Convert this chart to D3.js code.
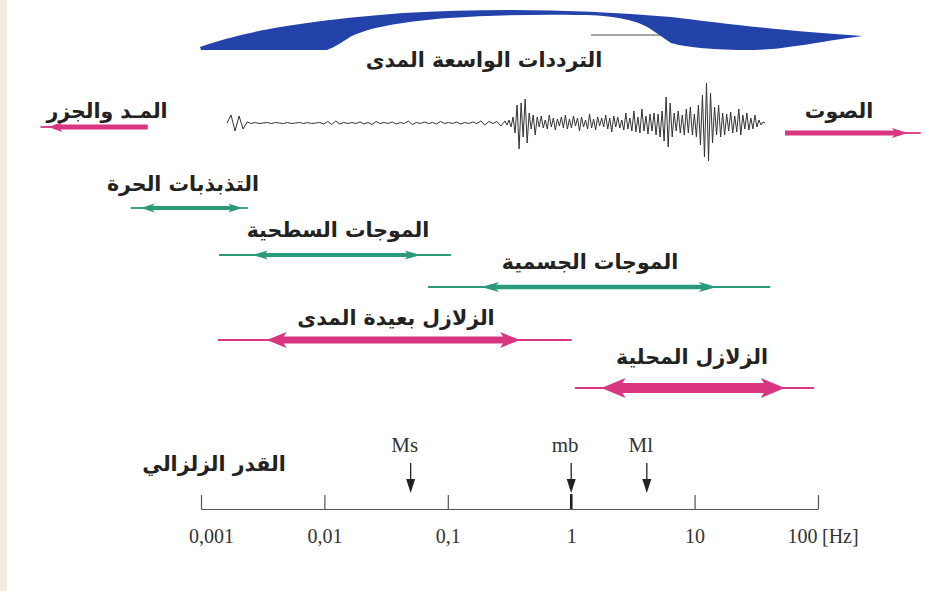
<!DOCTYPE html>
<html>
<head>
<meta charset="utf-8">
<script src="https://cdn.jsdelivr.net/npm/d3@7"></script>
<style>
  body { margin: 0; background: #fff; }
  .lbl { font-family: "DejaVu Sans", sans-serif; font-weight: bold; fill: #222; font-size: 20.5px; }
  .axis text { font-family: "Liberation Serif", serif; font-size: 20px; fill: #333; }
  .axis path, .axis line { stroke: #555; stroke-width: 1.2; }
  .mag { font-family: "Liberation Serif", serif; font-size: 21px; fill: #333; }
</style>
</head>
<body>
<script>
// frequency axis
var freqTicks = [0.001, 0.01, 0.1, 1, 10, 100];
var tickLabels = ["0,001", "0,01", "0,1", "1", "10", "100"];

// frequency bands (Hz): line ends and arrow head positions
var bandNames = ["المـد والجزر", "الصوت", "التذبذبات الحرة", "الموجات السطحية",
                 "الموجات الجسمية", "الزلازل بعيدة المدى", "الزلازل المحلية"];
var bandLow      = [0.00005, 54, 0.00027, 0.0014, 0.069, 0.00137, 1.07];
var bandHeadLow  = [0.000066, null, 0.00037, 0.003, 0.22, 0.0041, 2.2];
var bandHeadHigh = [null, 460, 0.0019, 0.052, 12.8, 0.32, 43];
var bandHigh     = [0.00037, 680, 0.0024, 0.106, 41, 1.01, 93];

// broadband range (big blue arrow)
var broadband = [0.001, 230];
var broadbandName = "الترددات الواسعة المدى";

// magnitude scales
var magNames = ["Ms", "mb", "Ml"];
var magFreq = [0.05, 1, 4.1];
var magTitle = "القدر الزلزالي";

// seismogram trace (px amplitude)
var traceQuiet = [0, 8, -8, 7, -6, 1, -0.5, 0.5, -0.5, 0, 0.5, -0.5, 0.5, 0, -0.5, 0.5, -0.5, 0, 0.5, -0.5,
  0.5, -0.5, 0, 0.5, -1, 1.5, -1.5, 2, -1, 0.5, -0.5, 0.5, -0.5, 1, -1, 0.5, -1.5, 1.5, -0.5, 0.5,
  -0.5, 1, -1, 0.5, -0.5, 2, -1.5, 0.5, -0.5, 1, -0.5, 0.5, -1, 1.5, -0.5, 0.5, -0.5, 1, -1, 0.5,
  -0.5, 1, -0.5, 2, -2, 1.5, -0.5, 1.5, -3, 2];
var traceP = [-2, 3, -4, 6, -10, 18, -26, 20, -14, 24, -20, 10, -6, 8, -12, 6, -4, 7, -5, 3,
  -6, 8, -4, 5, -7, 4, -3, 6, -5, 8, -6, 4, -5, 7, -3, 5, -8, 6, -4, 3,
  -6, 9, -5, 4, -7, 6, -3, 5, -4, 8, -6, 5, -9, 7, -4, 6, -5, 3, -7, 10,
  -6, 5, -8, 12, -9, 6, -10, 14, -8, 7, -11, 9];
var traceS = [-8, 10, -12, 9, -14, 12, -18, 26, -24, 20, -14, 10, -8, 12, -10, 8, -12, 14, -10, 16,
  -12, 9, -14, 18, -22, 28, -34, 40, -38, 30, -20, 16, -12, 18, -14, 10, -12, 9, -8, 11,
  -10, 7, -9, 14, -12, 8, -6, 10, -7, 5, -6, 8, -4, 3, -2, 1, 0];
var trace = traceQuiet.concat(traceP, traceS);

var width = 925, height = 591;
var pink = "#d93580", green = "#2a9a7b", blue = "#2443aa";

// layout
var rowY = [127, 133, 208, 255, 287, 340, 388];
var labelPos = [[107, 118], [839, 118], [183, 191], [338, 237], [590, 269], [396, 325], [692, 364]];
var bandStyle = [
  {c: pink, w: 5, len: 14, h: 5},
  {c: pink, w: 5, len: 16, h: 5},
  {c: green, w: 4, len: 14, h: 4.5},
  {c: green, w: 4, len: 16, h: 4.5},
  {c: green, w: 4.5, len: 18, h: 5},
  {c: pink, w: 7, len: 20, h: 8},
  {c: pink, w: 10, len: 24, h: 10}
];

var x = d3.scaleLog().domain([0.001, 100]).range([201, 818]);

var svg = d3.select("body").append("svg")
    .attr("width", width)
    .attr("height", height);

svg.append("rect").attr("width", 7).attr("height", height).attr("fill", "#f6ebe3");

// big blue arrow
var x0 = x(broadband[0]), x1 = x(broadband[1]);
var p = d3.path();
p.moveTo(x0, 50);
p.lineTo(x0 - 1, 47);
p.bezierCurveTo(x0 + 40, 32, x0 + 100, 21, x0 + 202, 13);
p.bezierCurveTo(x0 + 290, 8, x0 + 380, 9, x0 + 470, 17);
p.bezierCurveTo(x0 + 520, 23, x0 + 580, 31, x1, 36);
p.bezierCurveTo(x1 - 60, 44, x0 + 580, 51, x0 + 537, 50);
p.bezierCurveTo(x0 + 500, 49, x0 + 480, 46, x0 + 470, 43);
p.lineTo(x0 + 448, 28);
p.bezierCurveTo(x0 + 435, 20, x0 + 410, 15, x0 + 381, 15);
p.bezierCurveTo(x0 + 340, 14, x0 + 290, 15, x0 + 247, 18);
p.bezierCurveTo(x0 + 210, 21, x0 + 170, 26, x0 + 149, 37);
p.bezierCurveTo(x0 + 140, 43, x0 + 132, 48, x0 + 126, 50);
p.closePath();
svg.append("line").attr("x1", x0 + 390).attr("x2", x0 + 460).attr("y1", 35).attr("y2", 35)
    .attr("stroke", "#8a8a8a").attr("stroke-width", 1.5);
svg.append("path").attr("d", p.toString()).attr("fill", blue);

svg.append("text").attr("class", "lbl")
    .attr("x", 484).attr("y", 67)
    .attr("text-anchor", "middle")
    .text(broadbandName);

// seismogram
var n = trace.length;
var tx = d3.scaleLinear()
    .domain([0, traceQuiet.length - 1, traceQuiet.length + traceP.length - 1, n - 1])
    .range([227, 505, 650, 765]);
var ty = d3.scaleLinear().domain([-40, 40]).range([163, 83]);
svg.append("path")
    .datum(trace)
    .attr("fill", "none")
    .attr("stroke", "#333")
    .attr("stroke-width", 1)
    .attr("d", d3.line().x(function(d, i) { return tx(i); }).y(function(d) { return ty(d); }));

// band arrows
function head(g, xc, y, dir, s) {
  var tip = xc + dir * s.len / 2, base = xc - dir * s.len / 2;
  g.append("path")
    .attr("d", "M" + tip + "," + y + "L" + base + "," + (y - s.h) + "L" + (base + dir * s.len * 0.25) + "," + y +
               "L" + base + "," + (y + s.h) + "Z")
    .attr("fill", s.c);
}

bandNames.forEach(function(name, i) {
  var s = bandStyle[i], y = rowY[i];
  var g = svg.append("g");
  var a = bandHeadLow[i] != null ? bandHeadLow[i] : bandLow[i];
  var b = bandHeadHigh[i] != null ? bandHeadHigh[i] : bandHigh[i];
  // thin tails
  if (bandHeadLow[i] != null)
    g.append("line").attr("x1", x(bandLow[i])).attr("x2", x(a)).attr("y1", y).attr("y2", y)
      .attr("stroke", s.c).attr("stroke-width", 1.8);
  if (bandHeadHigh[i] != null)
    g.append("line").attr("x1", x(b)).attr("x2", x(bandHigh[i])).attr("y1", y).attr("y2", y)
      .attr("stroke", s.c).attr("stroke-width", 1.8);
  g.append("line").attr("x1", x(a)).attr("x2", x(b)).attr("y1", y).attr("y2", y)
    .attr("stroke", s.c).attr("stroke-width", s.w);
  if (bandHeadLow[i] != null) head(g, x(bandHeadLow[i]), y, -1, s);
  if (bandHeadHigh[i] != null) head(g, x(bandHeadHigh[i]), y, 1, s);

  svg.append("text").attr("class", "lbl")
    .attr("x", labelPos[i][0]).attr("y", labelPos[i][1])
    .attr("text-anchor", "middle")
    .text(name);
});

// frequency axis
var axisY = 509;
var ax = svg.append("g")
    .attr("class", "axis")
    .attr("transform", "translate(0," + axisY + ")")
    .call(d3.axisBottom(x)
      .tickValues(freqTicks)
      .tickFormat(function(d, i) { return tickLabels[i]; })
      .tickSize(-14)
      .tickSizeOuter(0)
      .tickPadding(28));
ax.selectAll(".tick text").attr("dy", "0.32em");
ax.selectAll(".tick").filter(function(d) { return d === 0.001; }).select("text").attr("dx", 10);
ax.selectAll(".tick").filter(function(d) { return d === 100; }).select("text").attr("dx", -16);
ax.append("text").attr("x", x(100) + 4).attr("y", 28).attr("dy", "0.32em")
    .attr("text-anchor", "start").text("[Hz]");

// magnitude markers
magNames.forEach(function(m, i) {
  var mx = x(magFreq[i]);
  svg.append("text").attr("class", "mag")
    .attr("x", mx - 6).attr("y", 452)
    .attr("text-anchor", "middle").text(m);
  svg.append("line").attr("x1", mx).attr("x2", mx).attr("y1", 463).attr("y2", 482)
    .attr("stroke", "#222").attr("stroke-width", 1.3);
  svg.append("path")
    .attr("d", "M" + (mx - 4.5) + ",479L" + (mx + 4.5) + ",479L" + mx + ",493Z")
    .attr("fill", "#222");
});
svg.append("line").attr("x1", x(1)).attr("x2", x(1)).attr("y1", 494).attr("y2", axisY)
  .attr("stroke", "#222").attr("stroke-width", 2.5);

svg.append("text").attr("class", "lbl")
    .attr("x", 214).attr("y", 471)
    .attr("text-anchor", "middle")
    .text(magTitle);
</script>
</body>
</html>
